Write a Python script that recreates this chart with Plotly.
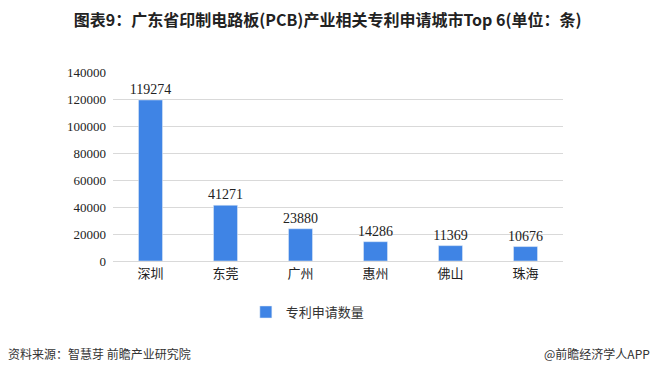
import plotly.graph_objects as go

cities = ["深圳", "东莞", "广州", "惠州", "佛山", "珠海"]
patents = [119274, 41271, 23880, 14286, 11369, 10676]
y_ticks = [0, 20000, 40000, 60000, 80000, 100000, 120000, 140000]

bar_color = "#3f84e5"
cjk = "Noto Sans CJK SC"

fig = go.Figure()
fig.add_trace(go.Bar(
    x=cities, y=patents, name="专利申请数量",
    marker_color=bar_color, width=0.32,
    text=[str(v) for v in patents], textposition="outside",
    textfont=dict(family="Liberation Serif", size=14, color="#222"),
    constraintext="none",
    cliponaxis=False,
))

fig.update_layout(
    width=658, height=374,
    margin=dict(l=113, r=95, t=72, b=113),
    paper_bgcolor="white", plot_bgcolor="white",
    title=dict(text="<b>图表9：广东省印制电路板(PCB)产业相关专利申请城市Top 6(单位：条)</b>",
               x=0.498, xanchor="center", y=0.945, yanchor="middle",
               font=dict(family=cjk, size=16, color="#222")),
    showlegend=True,
    legend=dict(orientation="h", x=0.433, xanchor="center", y=-0.27, yanchor="middle",
                font=dict(family=cjk, size=13, color="#333"), itemwidth=30),
    bargap=0.68,
)
fig.update_xaxes(showline=True, linecolor="#d9d9d9", linewidth=1, ticks="",
                 tickfont=dict(family=cjk, size=13, color="#222"))
fig.update_yaxes(range=[0, 140000], tickvals=y_ticks, ticktext=[str(v) for v in y_ticks],
                 showgrid=True, gridcolor="#d9d9d9", zeroline=False,
                 tickfont=dict(family="Liberation Serif", size=13, color="#222"),
                 ticklabelstandoff=6)

fig.add_annotation(text="资料来源：智慧芽 前瞻产业研究院", xref="paper", yref="paper",
                   x=-107/450, y=-(353-261)/189, xanchor="left", yanchor="middle", showarrow=False,
                   font=dict(family=cjk, size=12, color="#333"))
fig.add_annotation(text="@前瞻经济学人APP", xref="paper", yref="paper",
                   x=(652-113)/450, y=-(353-261)/189, xanchor="right", yanchor="middle", showarrow=False,
                   font=dict(family=cjk, size=12, color="#333"))

fig.write_html("out.html", config={"displayModeBar": False},
               post_script="document.body.style.margin='0';")
